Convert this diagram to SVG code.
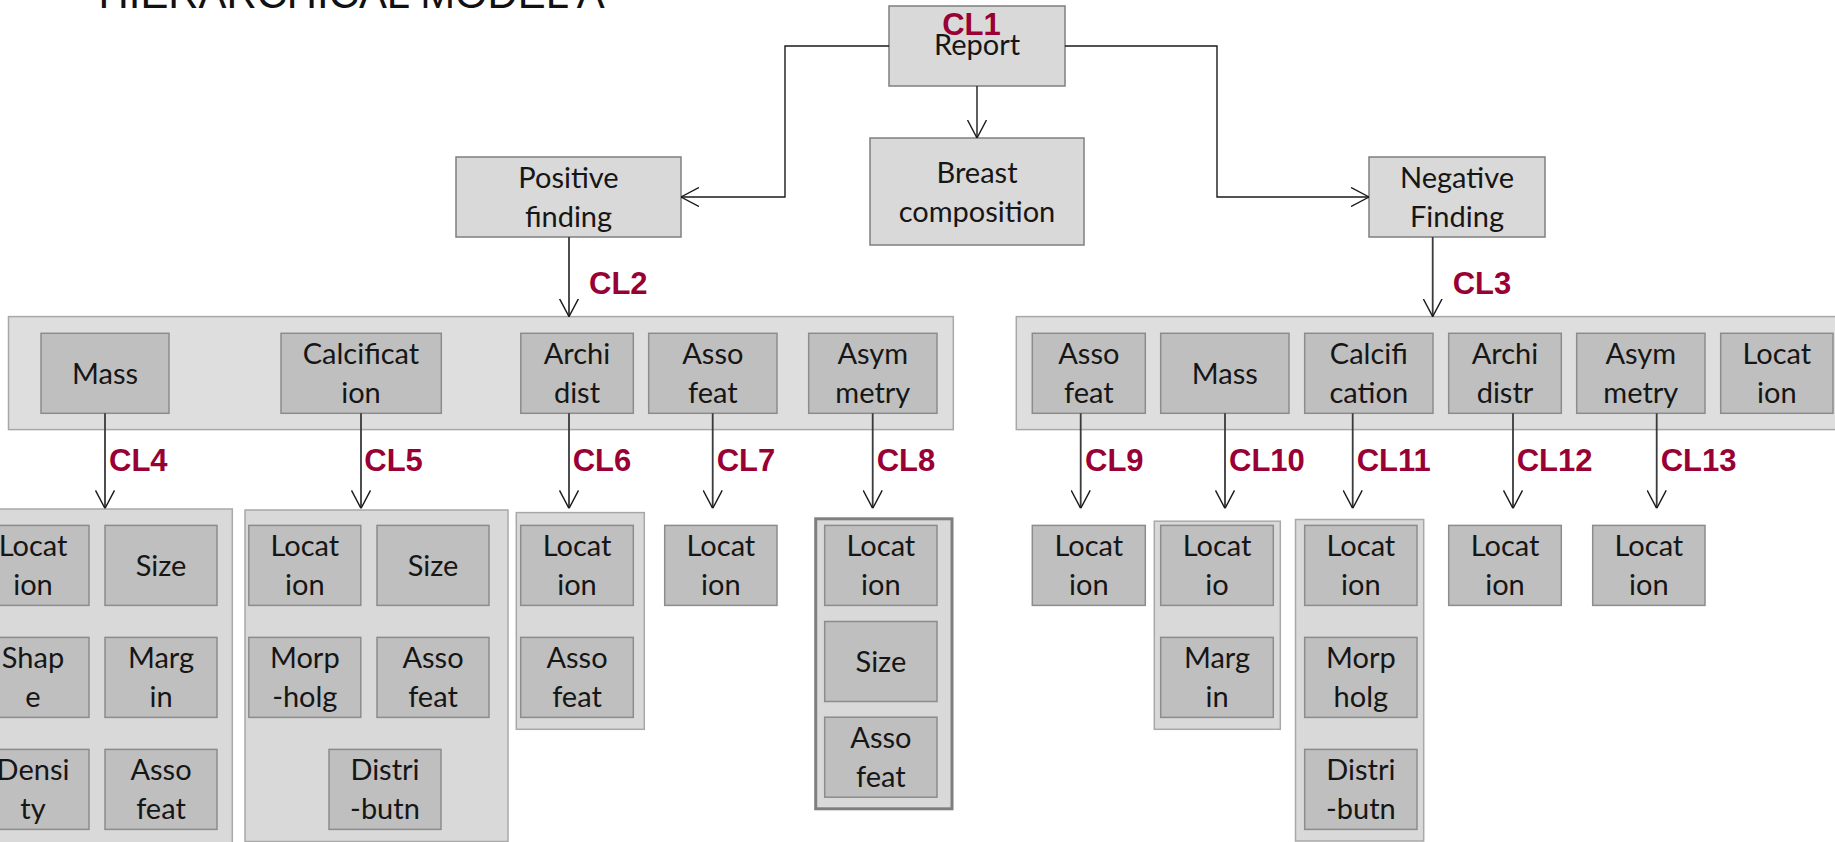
<svg xmlns="http://www.w3.org/2000/svg" width="1835" height="842" viewBox="0 0 1835 842">
<defs>
<style>
.top{fill:#d9d9d9;stroke:#7f7f7f;stroke-width:1.5}
.grp{fill:#dedede;stroke:#a8a8a8;stroke-width:1.5}
.sub{fill:#d9d9d9;stroke:#a8a8a8;stroke-width:1.5}
.sub8{fill:#d9d9d9;stroke:#7f7f7f;stroke-width:3}
.box{fill:#bfbfbf;stroke:#8c8c8c;stroke-width:1.5}
.t{font-family:Lato,'Open Sans',sans-serif;font-size:29px;fill:#161616;text-anchor:middle}
.cl{font-family:'Liberation Sans',Arial,sans-serif;font-weight:bold;font-size:31px;fill:#990033}
.ln{fill:none;stroke:#3a3a3a;stroke-width:1.8}
.el{fill:none;stroke:#1a1a1a;stroke-width:1.4}
.title{font-family:'Liberation Sans',Arial,sans-serif;font-size:42px;fill:#111}
</style>
<marker id="ah" viewBox="0 -10 18 20" refX="18" refY="0" markerWidth="18" markerHeight="20" markerUnits="userSpaceOnUse" orient="auto">
<path d="M0,-9.5 L18,0 L0,9.5" fill="none" stroke="#1a1a1a" stroke-width="1.4"/>
</marker>
</defs>

<text class="title" x="98.6" y="8" textLength="506" lengthAdjust="spacingAndGlyphs">HIERARCHICAL MODEL A</text>

<!-- top-level nodes -->
<g id="report">
<rect class="top" x="889" y="6" width="176" height="80"/>
<text class="cl" x="971.5" y="35" text-anchor="middle">CL1</text>
<text class="t" x="977" y="55">Report</text>
</g>
<g id="breast">
<rect class="top" x="870" y="138" width="214" height="107"/>
<text class="t" x="977" y="183">Breast<tspan x="977" dy="39">composition</tspan></text>
</g>
<g id="positive">
<rect class="top" x="456" y="157" width="225" height="80"/>
<text class="t" x="568.5" y="188">Positive<tspan x="568.5" dy="39">finding</tspan></text>
</g>
<g id="negative">
<rect class="top" x="1369" y="157" width="176" height="80"/>
<text class="t" x="1457" y="188">Negative<tspan x="1457" dy="39">Finding</tspan></text>
</g>

<!-- level 2 groups -->
<g id="pos-group">
<rect class="grp" x="8.5" y="316.6" width="944.8" height="113"/>
<rect class="box" x="41" y="333.3" width="128" height="80"/>
<text class="t" x="105" y="383.5">Mass</text>
<rect class="box" x="281" y="333.3" width="160.3" height="80"/>
<text class="t" x="361" y="364">Calcificat<tspan x="361" dy="39">ion</tspan></text>
<rect class="box" x="520.8" y="333.3" width="112.5" height="80"/>
<text class="t" x="577" y="364">Archi<tspan x="577" dy="39">dist</tspan></text>
<rect class="box" x="648.7" y="333.3" width="128.3" height="80"/>
<text class="t" x="712.8" y="364">Asso<tspan x="712.8" dy="39">feat</tspan></text>
<rect class="box" x="808.7" y="333.3" width="128.3" height="80"/>
<text class="t" x="872.8" y="364">Asym<tspan x="872.8" dy="39">metry</tspan></text>
</g>
<g id="neg-group">
<rect class="grp" x="1016.3" y="316.6" width="830" height="113"/>
<rect class="box" x="1032.3" y="333.3" width="113" height="80"/>
<text class="t" x="1088.8" y="364">Asso<tspan x="1088.8" dy="39">feat</tspan></text>
<rect class="box" x="1160.7" y="333.3" width="128.3" height="80"/>
<text class="t" x="1224.8" y="383.5">Mass</text>
<rect class="box" x="1304.7" y="333.3" width="128.3" height="80"/>
<text class="t" x="1368.8" y="364">Calcifi<tspan x="1368.8" dy="39">cation</tspan></text>
<rect class="box" x="1448.7" y="333.3" width="112.6" height="80"/>
<text class="t" x="1505" y="364">Archi<tspan x="1505" dy="39">distr</tspan></text>
<rect class="box" x="1576.7" y="333.3" width="128.3" height="80"/>
<text class="t" x="1640.8" y="364">Asym<tspan x="1640.8" dy="39">metry</tspan></text>
<rect class="box" x="1720.7" y="333.3" width="112.3" height="80"/>
<text class="t" x="1776.8" y="364">Locat<tspan x="1776.8" dy="39">ion</tspan></text>
</g>

<!-- level 3 -->
<g id="cl4-group">
<rect class="sub" x="-38" y="509" width="270.3" height="345"/>
<rect class="box" x="-23" y="525.4" width="112" height="80"/>
<text class="t" x="33" y="556">Locat<tspan x="33" dy="39">ion</tspan></text>
<rect class="box" x="105" y="525.4" width="112" height="80"/>
<text class="t" x="161" y="575.5">Size</text>
<rect class="box" x="-23" y="637.4" width="112" height="80"/>
<text class="t" x="33" y="668">Shap<tspan x="33" dy="39">e</tspan></text>
<rect class="box" x="105" y="637.4" width="112" height="80"/>
<text class="t" x="161" y="668">Marg<tspan x="161" dy="39">in</tspan></text>
<rect class="box" x="-23" y="749.4" width="112" height="80"/>
<text class="t" x="33" y="780">Densi<tspan x="33" dy="39">ty</tspan></text>
<rect class="box" x="105" y="749.4" width="112" height="80"/>
<text class="t" x="161" y="780">Asso<tspan x="161" dy="39">feat</tspan></text>
</g>
<g id="cl5-group">
<rect class="sub" x="245" y="510" width="263" height="331.5"/>
<rect class="box" x="248.8" y="525.4" width="112" height="80"/>
<text class="t" x="304.8" y="556">Locat<tspan x="304.8" dy="39">ion</tspan></text>
<rect class="box" x="377" y="525.4" width="112" height="80"/>
<text class="t" x="433" y="575.5">Size</text>
<rect class="box" x="248.8" y="637.4" width="112" height="80"/>
<text class="t" x="304.8" y="668">Morp<tspan x="304.8" dy="39">-holg</tspan></text>
<rect class="box" x="377" y="637.4" width="112" height="80"/>
<text class="t" x="433" y="668">Asso<tspan x="433" dy="39">feat</tspan></text>
<rect class="box" x="329" y="749.4" width="112" height="80"/>
<text class="t" x="385" y="780">Distri<tspan x="385" dy="39">-butn</tspan></text>
</g>
<g id="cl6-group">
<rect class="sub" x="516.3" y="512.6" width="128" height="216.7"/>
<rect class="box" x="520.7" y="525.4" width="112.6" height="80"/>
<text class="t" x="577" y="556">Locat<tspan x="577" dy="39">ion</tspan></text>
<rect class="box" x="520.7" y="637.4" width="112.6" height="80"/>
<text class="t" x="577" y="668">Asso<tspan x="577" dy="39">feat</tspan></text>
</g>
<g id="cl7-node">
<rect class="box" x="664.7" y="525.4" width="112.3" height="80"/>
<text class="t" x="720.9" y="556">Locat<tspan x="720.9" dy="39">ion</tspan></text>
</g>
<g id="cl8-group">
<rect class="sub8" x="815.7" y="518.8" width="136.3" height="290"/>
<rect class="box" x="824.7" y="525.4" width="112.3" height="80"/>
<text class="t" x="880.9" y="556">Locat<tspan x="880.9" dy="39">ion</tspan></text>
<rect class="box" x="824.7" y="621.5" width="112.3" height="80"/>
<text class="t" x="880.9" y="671.5">Size</text>
<rect class="box" x="824.7" y="717.2" width="112.3" height="80"/>
<text class="t" x="880.9" y="748">Asso<tspan x="880.9" dy="39">feat</tspan></text>
</g>
<g id="cl9-node">
<rect class="box" x="1032.3" y="525.4" width="113" height="80"/>
<text class="t" x="1088.8" y="556">Locat<tspan x="1088.8" dy="39">ion</tspan></text>
</g>
<g id="cl10-group">
<rect class="sub" x="1154.3" y="521.2" width="126" height="208.1"/>
<rect class="box" x="1160.7" y="525.4" width="112.6" height="80"/>
<text class="t" x="1217" y="556">Locat<tspan x="1217" dy="39">io</tspan></text>
<rect class="box" x="1160.7" y="637.4" width="112.6" height="80"/>
<text class="t" x="1217" y="668">Marg<tspan x="1217" dy="39">in</tspan></text>
</g>
<g id="cl11-group">
<rect class="sub" x="1295.5" y="519.5" width="128.2" height="321.5"/>
<rect class="box" x="1304.7" y="525.4" width="112.3" height="80"/>
<text class="t" x="1360.9" y="556">Locat<tspan x="1360.9" dy="39">ion</tspan></text>
<rect class="box" x="1304.7" y="637.4" width="112.3" height="80"/>
<text class="t" x="1360.9" y="668">Morp<tspan x="1360.9" dy="39">holg</tspan></text>
<rect class="box" x="1304.7" y="749.4" width="112.3" height="80"/>
<text class="t" x="1360.9" y="780">Distri<tspan x="1360.9" dy="39">-butn</tspan></text>
</g>
<g id="cl12-node">
<rect class="box" x="1448.7" y="525.4" width="112.6" height="80"/>
<text class="t" x="1505" y="556">Locat<tspan x="1505" dy="39">ion</tspan></text>
</g>
<g id="cl13-node">
<rect class="box" x="1592.7" y="525.4" width="112.3" height="80"/>
<text class="t" x="1648.9" y="556">Locat<tspan x="1648.9" dy="39">ion</tspan></text>
</g>

<!-- connectors -->
<g id="connectors">
<path class="el" d="M977,86 V138" marker-end="url(#ah)"/>
<path class="el" d="M889,46 H785 V197 H681" marker-end="url(#ah)"/>
<path class="el" d="M1065,46 H1217 V197 H1369" marker-end="url(#ah)"/>
<path class="ln" d="M569,237 V316.6" marker-end="url(#ah)"/>
<path class="ln" d="M1432.7,237 V316.6" marker-end="url(#ah)"/>
<path class="ln" d="M105,413.3 V508.4" marker-end="url(#ah)"/>
<path class="ln" d="M361,413.3 V508.4" marker-end="url(#ah)"/>
<path class="ln" d="M569,413.3 V508.4" marker-end="url(#ah)"/>
<path class="ln" d="M712.7,413.3 V508.4" marker-end="url(#ah)"/>
<path class="ln" d="M872.7,413.3 V508.4" marker-end="url(#ah)"/>
<path class="ln" d="M1080.7,413.3 V508.4" marker-end="url(#ah)"/>
<path class="ln" d="M1225,413.3 V508.4" marker-end="url(#ah)"/>
<path class="ln" d="M1352.7,413.3 V508.4" marker-end="url(#ah)"/>
<path class="ln" d="M1513,413.3 V508.4" marker-end="url(#ah)"/>
<path class="ln" d="M1656.7,413.3 V508.4" marker-end="url(#ah)"/>
</g>

<!-- connector labels -->
<g id="labels">
<text class="cl" x="589" y="294">CL2</text>
<text class="cl" x="1452.7" y="294">CL3</text>
<text class="cl" x="109" y="471">CL4</text>
<text class="cl" x="364.3" y="471">CL5</text>
<text class="cl" x="572.7" y="471">CL6</text>
<text class="cl" x="716.7" y="471">CL7</text>
<text class="cl" x="876.7" y="471">CL8</text>
<text class="cl" x="1085" y="471">CL9</text>
<text class="cl" x="1229" y="471">CL10</text>
<text class="cl" x="1356.7" y="471">CL11</text>
<text class="cl" x="1516.7" y="471">CL12</text>
<text class="cl" x="1660.7" y="471">CL13</text>
</g>
</svg>
